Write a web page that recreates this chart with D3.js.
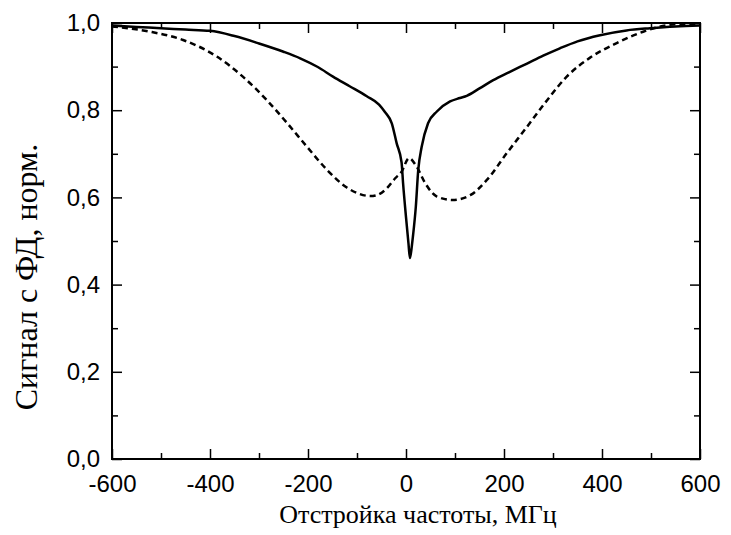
<!DOCTYPE html>
<html>
<head>
<meta charset="utf-8">
<script src="https://cdn.jsdelivr.net/npm/d3@7"></script>
<style>
  body { margin: 0; background: #fff; }
  #chart { width: 731px; height: 535px; }
</style>
</head>
<body>
<div id="chart"></div>
<script>
// detuning, MHz and normalised photodiode signal
let solidX = [-600, -550, -500, -450, -400, -350, -300, -250, -216, -180, -149, -115, -80, -55, -43, -29, -19, -9, -6, 0, 5, 8, 11, 14, 20, 25, 32, 45, 63, 90, 110, 124, 150, 178, 210, 247, 280, 314, 350, 396, 450, 498, 550, 600];
let solidY = [0.994, 0.991, 0.988, 0.985, 0.982, 0.970, 0.953, 0.934, 0.919, 0.899, 0.877, 0.855, 0.832, 0.813, 0.796, 0.770, 0.724, 0.680, 0.633, 0.555, 0.495, 0.461, 0.480, 0.509, 0.578, 0.663, 0.716, 0.770, 0.797, 0.820, 0.828, 0.833, 0.850, 0.869, 0.887, 0.907, 0.925, 0.942, 0.958, 0.972, 0.983, 0.988, 0.992, 0.994];

let dashX = [-600, -522, -455, -386, -333, -284, -243, -202, -161, -120, -95, -73, -60, -39, -22, -9, 6, 22, 39, 63, 95, 131, 165, 206, 247, 288, 328, 375, 430, 484, 533, 570, 600];
let dashY = [0.992, 0.980, 0.961, 0.923, 0.877, 0.823, 0.771, 0.716, 0.663, 0.622, 0.608, 0.603, 0.605, 0.621, 0.644, 0.659, 0.690, 0.670, 0.633, 0.602, 0.594, 0.605, 0.640, 0.702, 0.762, 0.823, 0.877, 0.920, 0.954, 0.980, 0.995, 0.998, 0.997];

let xMajor = [-600, -400, -200, 0, 200, 400, 600];
let xMinor = [-500, -300, -100, 100, 300, 500];
let yMajor = [0, 0.2, 0.4, 0.6, 0.8, 1.0];
let yMinor = [0.1, 0.3, 0.5, 0.7, 0.9];

let xTitle = "Отстройка частоты, МГц";
let yTitle = "Сигнал с ФД, норм.";

let margin = { top: 23, right: 31, bottom: 76, left: 112 };
let width = 731 - margin.left - margin.right;
let height = 535 - margin.top - margin.bottom;

let svg = d3.select("#chart").append("svg")
    .attr("width", 731)
    .attr("height", 535)
    .append("g")
    .attr("transform", "translate(" + margin.left + "," + margin.top + ")");

let x = d3.scaleLinear().domain([-600, 600]).range([0, width]);
let y = d3.scaleLinear().domain([0, 1]).range([height, 0]);

let fmtX = d => String(d);   // plain hyphen, not the unicode minus
let fmtY = d => d3.format(".1f")(d).replace(".", ",");

function addAxis(axis, tr, cls){
    let g = svg.append("g")
        .attr("class", cls)
        .attr("transform", tr)
        .call(axis);
    g.select(".domain").remove();
    g.selectAll(".tick line").attr("stroke", "#000").attr("stroke-width", 1.5);
    g.selectAll("text")
        .attr("font-family", "'Liberation Sans', Arial, sans-serif")
        .attr("font-size", "24px")
        .attr("fill", "#000");
    return g;
}

// major ticks with labels (bottom, left), mirrored on top and right
addAxis(d3.axisBottom(x).tickValues(xMajor).tickSizeInner(-10).tickSizeOuter(0).tickPadding(16).tickFormat(fmtX), "translate(0," + height + ")", "x-axis");
addAxis(d3.axisTop(x).tickValues(xMajor).tickSizeInner(-10).tickSizeOuter(0).tickFormat(""), "translate(0,0)", "x-top");
addAxis(d3.axisLeft(y).tickValues(yMajor).tickSizeInner(-10).tickSizeOuter(0).tickPadding(12).tickFormat(fmtY), "translate(0,0)", "y-axis");
addAxis(d3.axisRight(y).tickValues(yMajor).tickSizeInner(-10).tickSizeOuter(0).tickFormat(""), "translate(" + width + ",0)", "y-right");

// minor ticks
addAxis(d3.axisBottom(x).tickValues(xMinor).tickSizeInner(-6).tickSizeOuter(0).tickFormat(""), "translate(0," + height + ")", "x-minor");
addAxis(d3.axisTop(x).tickValues(xMinor).tickSizeInner(-6).tickSizeOuter(0).tickFormat(""), "translate(0,0)", "x-top-minor");
addAxis(d3.axisLeft(y).tickValues(yMinor).tickSizeInner(-6).tickSizeOuter(0).tickFormat(""), "translate(0,0)", "y-minor");
addAxis(d3.axisRight(y).tickValues(yMinor).tickSizeInner(-6).tickSizeOuter(0).tickFormat(""), "translate(" + width + ",0)", "y-right-minor");

// curves
let line = d3.line()
    .x(d => x(d[0]))
    .y(d => y(d[1]))
    .curve(d3.curveMonotoneX);

svg.append("path")
    .datum(dashX.map((v, i) => [v, dashY[i]]))
    .attr("fill", "none")
    .attr("stroke", "#000")
    .attr("stroke-width", 2.5)
    .attr("stroke-dasharray", "6,4")
    .attr("d", line);

svg.append("path")
    .datum(solidX.map((v, i) => [v, solidY[i]]))
    .attr("fill", "none")
    .attr("stroke", "#000")
    .attr("stroke-width", 2.5)
    .attr("stroke-linejoin", "round")
    .attr("d", line);

// frame
svg.append("rect")
    .attr("width", width)
    .attr("height", height)
    .attr("fill", "none")
    .attr("stroke", "#000")
    .attr("stroke-width", 2);

// titles
svg.append("text")
    .text(xTitle)
    .attr("x", 418 - margin.left)
    .attr("y", 523 - margin.top)
    .attr("text-anchor", "middle")
    .attr("font-family", "'Liberation Serif', 'Times New Roman', serif")
    .attr("font-size", "26px")
    .attr("fill", "#000");

svg.append("text")
    .text(yTitle)
    .attr("transform", "translate(" + (37 - margin.left) + "," + (277 - margin.top) + ") rotate(-90)")
    .attr("text-anchor", "middle")
    .attr("font-family", "'Liberation Serif', 'Times New Roman', serif")
    .attr("font-size", "32px")
    .attr("fill", "#000");
</script>
</body>
</html>
